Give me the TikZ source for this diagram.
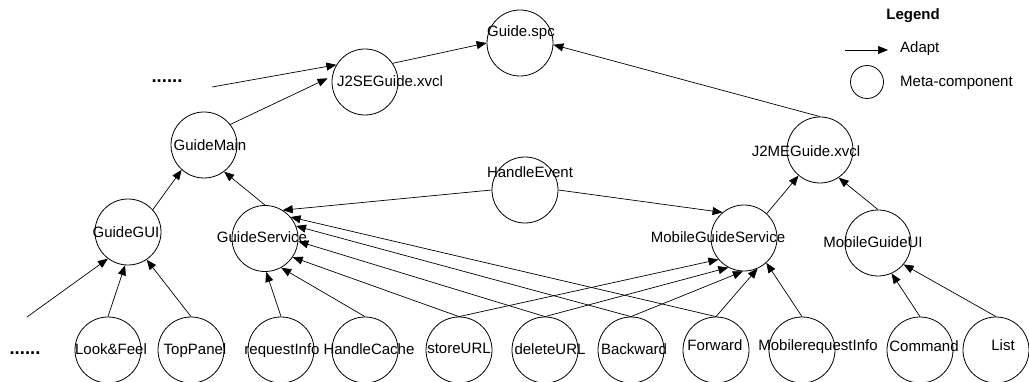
\documentclass[tikz,border=0pt]{standalone}
\usepackage{fontspec}
\setmainfont{Liberation Sans}
\usetikzlibrary{arrows.meta}

\tikzset{
  comp/.style={draw=black, line width=0.8pt, circle, minimum size=66pt, inner sep=0pt},
  legcomp/.style={draw=black, line width=0.8pt, circle, minimum size=33pt, inner sep=0pt},
  lbl/.style={inner sep=0pt, anchor=base, font=\fontsize{15}{18}\selectfont},
  dots/.style={inner sep=0pt, anchor=base, font=\fontsize{18.5}{20}\selectfont\bfseries},
  adapt/.style={line width=0.7pt, -{Triangle[length=10pt,width=8pt]}},
}

\begin{document}
\begin{tikzpicture}[x=1pt, y=-1pt]
\useasboundingbox (0,0) rectangle (1029,382);

% meta-components
\node[comp] (spc)  at (520,43)  {};
\node[comp] (j2se) at (365,82)  {};
\node[comp] (main) at (204,145) {};
\node[comp] (hev)  at (525,190) {};
\node[comp] (j2me) at (820,150) {};
\node[comp] (gui)  at (128,232) {};
\node[comp] (gsvc) at (265,238.5) {};
\node[comp] (mgs)  at (744,238) {};
\node[comp] (mgui) at (878,243) {};
\node[comp] (lf)   at (108,350) {};
\node[comp] (tp)   at (191,350) {};
\node[comp] (ri)   at (281,350) {};
\node[comp] (hc)   at (365,350) {};
\node[comp] (su)   at (459,350) {};
\node[comp] (du)   at (545,350) {};
\node[comp] (bw)   at (631,350) {};
\node[comp] (fw)   at (716,350) {};
\node[comp] (mri)  at (802,350) {};
\node[comp] (cmd)  at (920,350) {};
\node[comp] (lst)  at (996,350) {};

% component names
\node[lbl] (tspc)  at (521,37)  {Guide.spc};
\node[lbl] (tj2se) at (390,87)  {J2SEGuide.xvcl};
\node[lbl] (tmain) at (210,151) {GuideMain};
\node[lbl] (thev)  at (530,178) {HandleEvent};
\node[lbl] (tj2me) at (806,157) {J2MEGuide.xvcl};
\node[lbl] (tgui)  at (126,238) {GuideGUI};
\node[lbl] (tgsvc) at (262,243) {GuideService};
\node[lbl] (tmgs)  at (718,243) {MobileGuideService};
\node[lbl] (tmgui) at (873,248) {MobileGuideUI};
\node[lbl] (tlf)   at (111,355) {Look\&Feel};
\node[lbl] (ttp)   at (195,355) {TopPanel};
\node[lbl] (tri)   at (282,354) {requestInfo};
\node[lbl] (thc)   at (369,355) {HandleCache};
\node[lbl] (tsu)   at (459,353) {storeURL};
\node[lbl] (tdu)   at (550,355) {deleteURL};
\node[lbl] (tbw)   at (634,355) {Backward};
\node[lbl] (tfw)   at (715,351) {Forward};
\node[lbl] (tmri)  at (818,351) {MobilerequestInfo};
\node[lbl] (tcmd)  at (924,352) {Command};
\node[lbl] (tlst)  at (1003,351) {List};

% elided parts
\node[dots] (dots1) at (167,83)  {......};
\node[dots] (dots2) at (25,354)  {......};
\coordinate (d1) at (212,87);
\coordinate (d2) at (27,317);

% adaptation links
\draw[adapt] (d1) -- (j2se.149);
\draw[adapt, shorten >=5pt] (main.38) -- (j2se.170);
\draw[adapt] (j2se.34) -- (spc.180);
\draw[adapt] (j2me.90) -- (spc.357);
\draw[adapt] (gui.42) -- (main.228);
\draw[adapt] (gsvc.90) -- (main.307);
\draw[adapt] (hev.180) -- (gsvc.58);
\draw[adapt] (hev.0) -- (mgs.130);
\draw[adapt] (mgs.47) -- (j2me.230);
\draw[adapt] (mgui.90) -- (j2me.304);

\draw[adapt] (d2) -- (gui.233);
\draw[adapt] (lf.north) -- (gui.265);
\draw[adapt] (tp.north) -- (gui.304);

\draw[adapt] (ri.north) -- (gsvc.272);
\draw[adapt] (hc.north) -- (gsvc.299);
\draw[adapt] (su.north) -- (gsvc.326);
\draw[adapt] (du.north) -- (gsvc.355);
\draw[adapt] (bw.north) -- (gsvc.22);
\draw[adapt] (fw.north) -- (gsvc.40);

\draw[adapt] (su.north) -- (mgs.220);
\draw[adapt] (du.north) -- (mgs.242);
\draw[adapt] (bw.north) -- (mgs.268);
\draw[adapt] (fw.north) -- (mgs.294);
\draw[adapt] (mri.north) -- (mgs.312);

\draw[adapt] (cmd.north) -- (mgui.294);
\draw[adapt] (lst.north) -- (mgui.320);

% legend
\node[lbl, font=\fontsize{15}{18}\selectfont\bfseries] (leg) at (913,20) {Legend};
\coordinate (la) at (845,50);
\coordinate (lb) at (888,50);
\draw[adapt] (la) -- (lb);
\node[lbl, anchor=base west] (ladapt) at (900,53) {Adapt};
\node[legcomp] (lcirc) at (867,82) {};
\node[lbl, anchor=base west] (lmeta) at (900,87) {Meta-component};
\end{tikzpicture}
\end{document}
